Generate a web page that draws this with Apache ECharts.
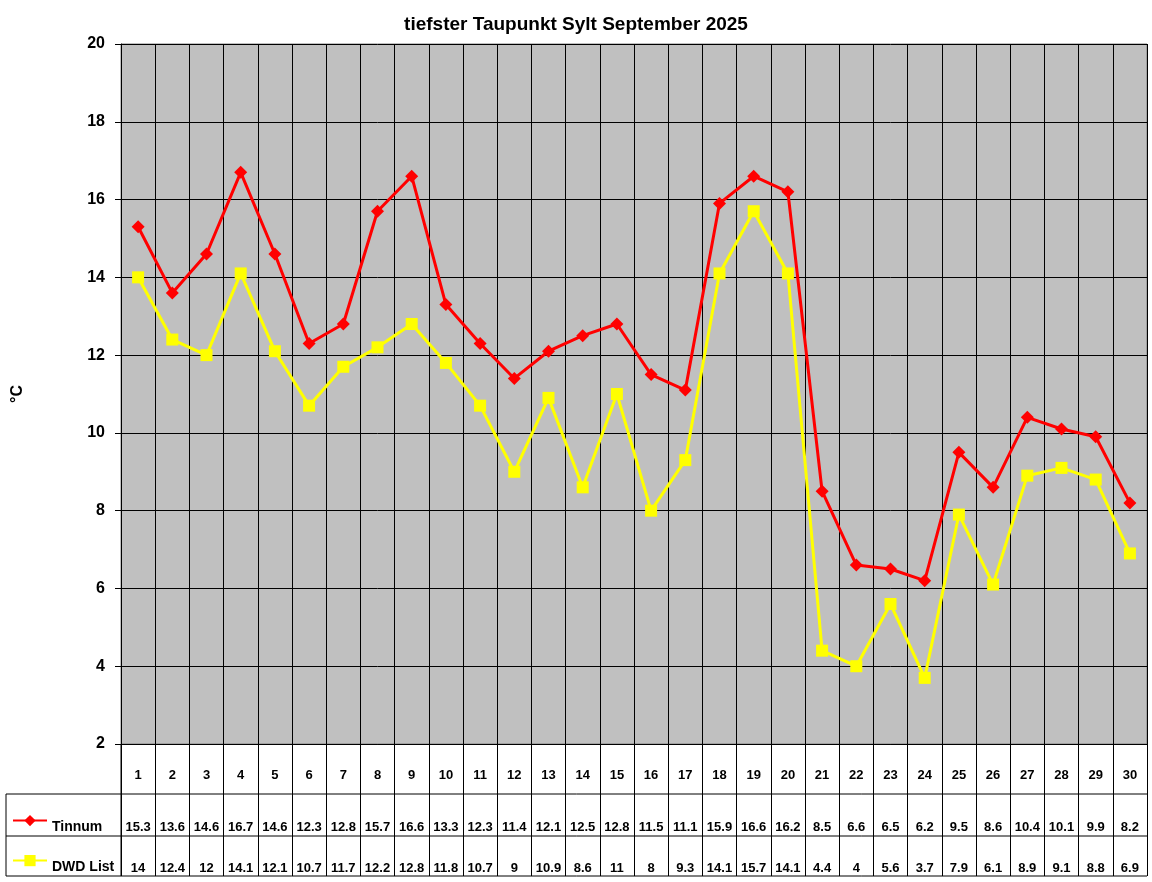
<!DOCTYPE html>
<html>
<head>
<meta charset="utf-8">
<script src="https://cdn.jsdelivr.net/npm/echarts@6/dist/echarts.min.js"></script>
<style>
  html, body { margin: 0; padding: 0; background: #fff; }
  #chart { width: 1152px; height: 882px; }
</style>
</head>
<body>
<div id="chart"></div>
<script>
// Taupunkt data, September 2025
const days = ['1','2','3','4','5','6','7','8','9','10','11','12','13','14','15','16','17','18','19','20','21','22','23','24','25','26','27','28','29','30'];
const tinnum = [15.3, 13.6, 14.6, 16.7, 14.6, 12.3, 12.8, 15.7, 16.6, 13.3, 12.3, 11.4, 12.1, 12.5, 12.8, 11.5, 11.1, 15.9, 16.6, 16.2, 8.5, 6.6, 6.5, 6.2, 9.5, 8.6, 10.4, 10.1, 9.9, 8.2];
const dwdList = [14, 12.4, 12, 14.1, 12.1, 10.7, 11.7, 12.2, 12.8, 11.8, 10.7, 9, 10.9, 8.6, 11, 8, 9.3, 14.1, 15.7, 14.1, 4.4, 4, 5.6, 3.7, 7.9, 6.1, 8.9, 9.1, 8.8, 6.9];
const yTicks = { min: 2, max: 20, interval: 2 };

const font = '"Liberation Sans", Arial, sans-serif';
const black = '#000';

// one legend per table row, text sits a bit lower than the icon
function rowLegend(name, top) {
  return {
    orient: 'vertical', left: 12, top: top, padding: 0,
    itemWidth: 34, itemHeight: 14,
    data: [name],
    formatter: '{t|{name}}',
    textStyle: {
      rich: { t: { fontSize: 14, fontWeight: 'bold', color: black, fontFamily: font, padding: [13, 0, 0, 0] } }
    }
  };
}

const chart = echarts.init(document.getElementById('chart'));

chart.setOption({
  animation: false,
  textStyle: { fontFamily: font },
  title: {
    text: 'tiefster Taupunkt Sylt September 2025',
    left: 'center', top: 10,
    textStyle: { fontSize: 19, fontWeight: 'bold', color: black, fontFamily: font }
  },
  legend: [rowLegend('Tinnum', 815), rowLegend('DWD List', 855)],
  grid: [
    { left: 121, right: 5, top: 44, bottom: 138, show: true, backgroundColor: '#C0C0C0', borderColor: '#808080', borderWidth: 1 },
    { left: 121, right: 5, top: 744, bottom: 6 }
  ],
  xAxis: [
    {
      type: 'category', data: days, gridIndex: 0, boundaryGap: true,
      axisLine: { lineStyle: { color: black } },
      axisTick: { show: false },
      axisLabel: { margin: 25, fontSize: 13, fontWeight: 'bold', color: black, fontFamily: font },
      splitLine: { show: true, lineStyle: { color: black, width: 1 } }
    },
    {
      type: 'category', data: days, gridIndex: 1, boundaryGap: true,
      axisLine: { show: false }, axisTick: { show: false }, axisLabel: { show: false },
      splitLine: { show: true, lineStyle: { color: black, width: 1 } }
    }
  ],
  yAxis: [
    {
      type: 'value', gridIndex: 0, min: yTicks.min, max: yTicks.max, interval: yTicks.interval,
      name: '°C', nameLocation: 'middle', nameGap: 95, nameRotate: 90,
      nameTextStyle: { fontSize: 16, fontWeight: 'bold', color: black, fontFamily: font },
      axisLine: { show: true, lineStyle: { color: black } },
      axisTick: { show: true, length: 6, lineStyle: { color: black } },
      axisLabel: { fontSize: 16, fontWeight: 'bold', color: black, margin: 16, fontFamily: font },
      splitLine: { show: true, lineStyle: { color: black, width: 1 } }
    },
    { type: 'value', gridIndex: 1, show: false, min: 0, max: 1 }
  ],
  series: [
    {
      name: 'Tinnum', type: 'line', data: tinnum, xAxisIndex: 0, yAxisIndex: 0,
      symbol: 'diamond', symbolSize: 13,
      lineStyle: { color: '#FF0000', width: 3 },
      itemStyle: { color: '#FF0000' }, z: 3
    },
    {
      name: 'DWD List', type: 'line', data: dwdList, xAxisIndex: 0, yAxisIndex: 0,
      symbol: 'rect', symbolSize: 12,
      lineStyle: { color: '#FFFF00', width: 3 },
      itemStyle: { color: '#FFFF00' }, z: 2
    }
  ]
});

// data table below the plot
const tableRows = [
  { values: tinnum, y: 827 },
  { values: dwdList, y: 868 }
];
const gfx = [];
const tableLeft = 6, tableRight = 1147;
[794, 836, 876].forEach(function (y) {
  gfx.push({ type: 'line', shape: { x1: tableLeft, y1: y, x2: tableRight, y2: y }, style: { stroke: black, lineWidth: 1 } });
});
gfx.push({ type: 'line', shape: { x1: tableLeft, y1: 794, x2: tableLeft, y2: 876 }, style: { stroke: black, lineWidth: 1 } });
gfx.push({ type: 'line', shape: { x1: 121, y1: 744, x2: 121, y2: 876 }, style: { stroke: black, lineWidth: 1 } });
tableRows.forEach(function (row) {
  row.values.forEach(function (v, i) {
    const x = chart.convertToPixel({ xAxisIndex: 0 }, i);
    gfx.push({
      type: 'text', x: x, y: row.y,
      style: { text: String(v), align: 'center', verticalAlign: 'middle', font: 'bold 13px ' + font, fill: black }
    });
  });
});
chart.setOption({ graphic: gfx });

window.addEventListener('resize', function () { chart.resize(); });
</script>
</body>
</html>
